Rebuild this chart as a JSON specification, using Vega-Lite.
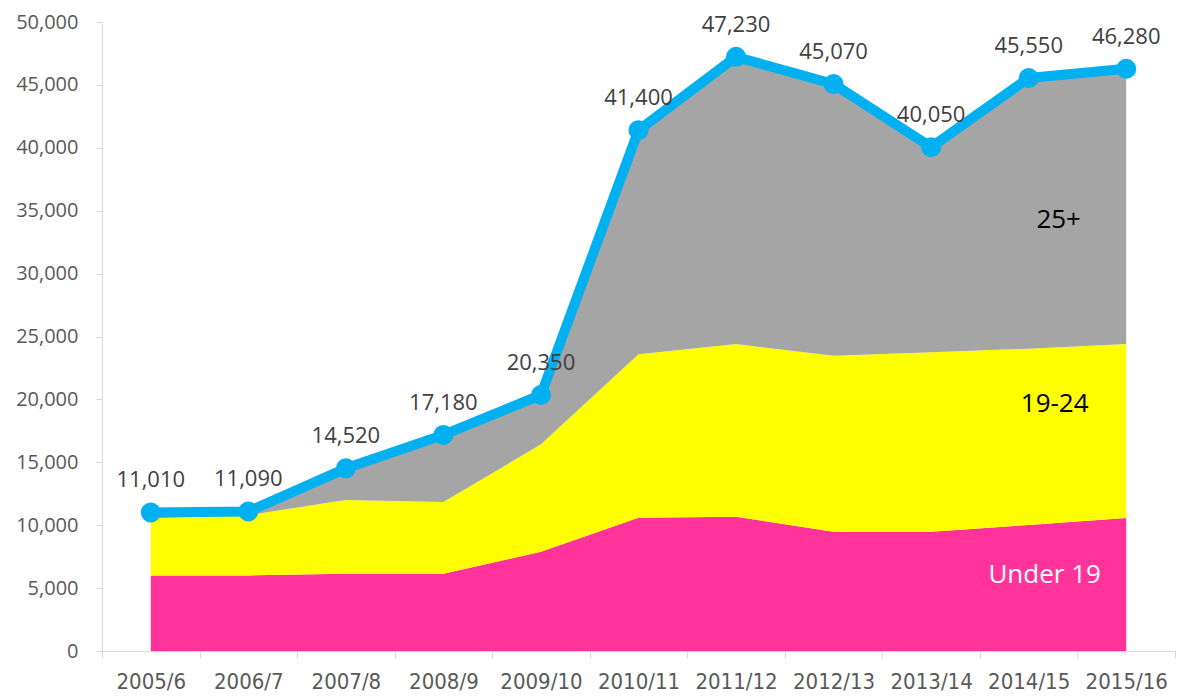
{
  "$schema": "https://vega.github.io/schema/vega-lite/v6.json",
  "width": 1073,
  "height": 629,
  "autosize": {"type": "none"},
  "padding": {"left": 102, "top": 22, "right": 6, "bottom": 46},
  "background": "white",
  "config": {
    "view": {"stroke": null},
    "font": "Open Sans",
    "axisY": {
      "title": null,
      "format": ",d",
      "tickCount": 10,
      "labelFont": "Open Sans",
      "labelFontSize": 20,
      "labelColor": "#595959",
      "domainColor": "#d9d9d9",
      "tickColor": "#d9d9d9",
      "tickSize": 6,
      "labelPadding": 18,
      "grid": false
    }
  },
  "datasets": {
    "areas": [
      {"period": "2005/6", "group": "Under 19", "layer": 1, "value": 6000},
      {"period": "2006/7", "group": "Under 19", "layer": 1, "value": 6010},
      {"period": "2007/8", "group": "Under 19", "layer": 1, "value": 6140},
      {"period": "2008/9", "group": "Under 19", "layer": 1, "value": 6140},
      {"period": "2009/10", "group": "Under 19", "layer": 1, "value": 7890},
      {"period": "2010/11", "group": "Under 19", "layer": 1, "value": 10600},
      {"period": "2011/12", "group": "Under 19", "layer": 1, "value": 10680},
      {"period": "2012/13", "group": "Under 19", "layer": 1, "value": 9480},
      {"period": "2013/14", "group": "Under 19", "layer": 1, "value": 9480},
      {"period": "2014/15", "group": "Under 19", "layer": 1, "value": 10020},
      {"period": "2015/16", "group": "Under 19", "layer": 1, "value": 10570},
      {"period": "2005/6", "group": "19-24", "layer": 2, "value": 4550},
      {"period": "2006/7", "group": "19-24", "layer": 2, "value": 4800},
      {"period": "2007/8", "group": "19-24", "layer": 2, "value": 5860},
      {"period": "2008/9", "group": "19-24", "layer": 2, "value": 5700},
      {"period": "2009/10", "group": "19-24", "layer": 2, "value": 8540},
      {"period": "2010/11", "group": "19-24", "layer": 2, "value": 12990},
      {"period": "2011/12", "group": "19-24", "layer": 2, "value": 13720},
      {"period": "2012/13", "group": "19-24", "layer": 2, "value": 13990},
      {"period": "2013/14", "group": "19-24", "layer": 2, "value": 14260},
      {"period": "2014/15", "group": "19-24", "layer": 2, "value": 14010},
      {"period": "2015/16", "group": "19-24", "layer": 2, "value": 13830},
      {"period": "2005/6", "group": "25+", "layer": 3, "value": 460},
      {"period": "2006/7", "group": "25+", "layer": 3, "value": 280},
      {"period": "2007/8", "group": "25+", "layer": 3, "value": 2520},
      {"period": "2008/9", "group": "25+", "layer": 3, "value": 5340},
      {"period": "2009/10", "group": "25+", "layer": 3, "value": 3920},
      {"period": "2010/11", "group": "25+", "layer": 3, "value": 17810},
      {"period": "2011/12", "group": "25+", "layer": 3, "value": 22830},
      {"period": "2012/13", "group": "25+", "layer": 3, "value": 21600},
      {"period": "2013/14", "group": "25+", "layer": 3, "value": 16310},
      {"period": "2014/15", "group": "25+", "layer": 3, "value": 21520},
      {"period": "2015/16", "group": "25+", "layer": 3, "value": 21880}
    ],
    "totals": [
      {"period": "2005/6", "total": 11010},
      {"period": "2006/7", "total": 11090},
      {"period": "2007/8", "total": 14520},
      {"period": "2008/9", "total": 17180},
      {"period": "2009/10", "total": 20350},
      {"period": "2010/11", "total": 41400},
      {"period": "2011/12", "total": 47230},
      {"period": "2012/13", "total": 45070},
      {"period": "2013/14", "total": 40050},
      {"period": "2014/15", "total": 45550},
      {"period": "2015/16", "total": 46280}
    ],
    "annotations": [
      {"period": "2014/15", "value": 34300, "label": "25+"},
      {"period": "2014/15", "value": 19600, "label": "19-24"},
      {"period": "2014/15", "value": 6040, "label": "Under 19"}
    ]
  },
  "encoding": {
    "x": {
      "field": "period",
      "type": "ordinal",
      "bandPosition": 0.5,
      "scale": {
        "type": "band",
        "paddingInner": 0,
        "paddingOuter": 0,
        "domain": ["2005/6", "2006/7", "2007/8", "2008/9", "2009/10", "2010/11", "2011/12", "2012/13", "2013/14", "2014/15", "2015/16"]
      },
      "axis": {
        "title": null,
        "labelAngle": 0,
        "tickBand": "extent",
        "labelFont": "DejaVu Sans Condensed",
        "labelFontSize": 22,
        "labelColor": "#595959",
        "tickSize": 7,
        "labelPadding": 13,
        "domainColor": "#d9d9d9",
        "tickColor": "#d9d9d9",
        "grid": false
      }
    }
  },
  "layer": [
    {
      "data": {"name": "areas"},
      "mark": {"type": "area", "opacity": 1},
      "encoding": {
        "y": {
          "field": "value",
          "type": "quantitative",
          "stack": "zero",
          "scale": {"domain": [0, 50000], "nice": false},
          "axis": {"format": ",d", "tickCount": 10}
        },
        "color": {
          "field": "group",
          "type": "nominal",
          "scale": {"domain": ["Under 19", "19-24", "25+"], "range": ["#ff3399", "#ffff00", "#a5a5a5"]},
          "legend": null
        },
        "order": {"field": "layer", "type": "quantitative"}
      }
    },
    {
      "data": {"name": "totals"},
      "mark": {
        "type": "line",
        "color": "#00b0f0",
        "strokeWidth": 10,
        "strokeJoin": "round",
        "point": {"filled": true, "size": 400, "color": "#00b0f0", "opacity": 1}
      },
      "encoding": {
        "y": {"field": "total", "type": "quantitative", "axis": {"format": ",d", "tickCount": 10}}
      }
    },
    {
      "data": {"name": "totals"},
      "mark": {"type": "text", "dy": -25, "baseline": "alphabetic", "fontSize": 22, "font": "Open Sans", "color": "#404040"},
      "encoding": {
        "y": {"field": "total", "type": "quantitative", "axis": {"format": ",d", "tickCount": 10}},
        "text": {"field": "total", "type": "quantitative", "format": ","}
      }
    },
    {
      "data": {"name": "annotations"},
      "transform": [{"filter": "datum.label === '25+'"}],
      "mark": {"type": "text", "dx": 30, "baseline": "middle", "fontSize": 26, "font": "Open Sans", "color": "#000000"},
      "encoding": {
        "y": {"field": "value", "type": "quantitative", "axis": {"format": ",d", "tickCount": 10}},
        "text": {"field": "label", "type": "nominal"}
      }
    },
    {
      "data": {"name": "annotations"},
      "transform": [{"filter": "datum.label === '19-24'"}],
      "mark": {"type": "text", "dx": 26, "baseline": "middle", "fontSize": 26, "font": "Open Sans", "color": "#000000"},
      "encoding": {
        "y": {"field": "value", "type": "quantitative", "axis": {"format": ",d", "tickCount": 10}},
        "text": {"field": "label", "type": "nominal"}
      }
    },
    {
      "data": {"name": "annotations"},
      "transform": [{"filter": "datum.label === 'Under 19'"}],
      "mark": {"type": "text", "dx": 16, "baseline": "middle", "fontSize": 26, "font": "Open Sans", "color": "#ffffff"},
      "encoding": {
        "y": {"field": "value", "type": "quantitative", "axis": {"format": ",d", "tickCount": 10}},
        "text": {"field": "label", "type": "nominal"}
      }
    }
  ]
}
